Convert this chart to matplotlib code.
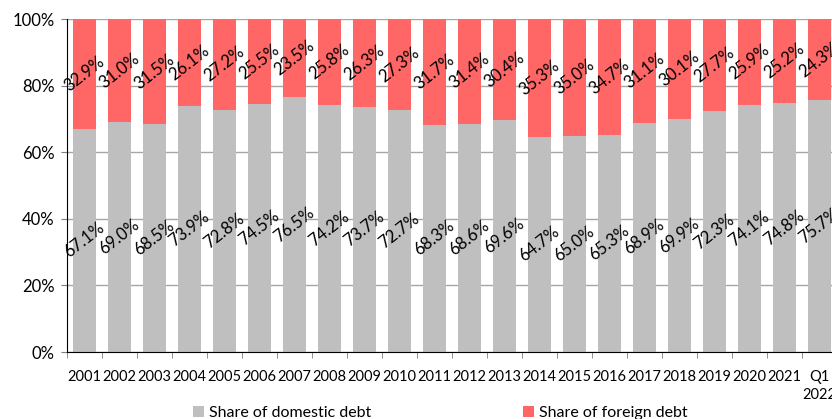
import numpy as np
import matplotlib.pyplot as plt
from matplotlib.ticker import FuncFormatter

years = ['2001', '2002', '2003', '2004', '2005', '2006', '2007', '2008', '2009',
         '2010', '2011', '2012', '2013', '2014', '2015', '2016', '2017', '2018',
         '2019', '2020', '2021', 'Q1\n2022']
domestic = [67.1, 69.0, 68.5, 73.9, 72.8, 74.5, 76.5, 74.2, 73.7, 72.7, 68.3,
            68.6, 69.6, 64.7, 65.0, 65.3, 68.9, 69.9, 72.3, 74.1, 74.8, 75.7]
foreign = [32.9, 31.0, 31.5, 26.1, 27.2, 25.5, 23.5, 25.8, 26.3, 27.3, 31.7,
           31.4, 30.4, 35.3, 35.0, 34.7, 31.1, 30.1, 27.7, 25.9, 25.2, 24.3]

plt.rcParams['font.family'] = ['Lato', 'DejaVu Sans']

W, H = 832, 419
fig = plt.figure(figsize=(W / 100, H / 100), dpi=100)
# axes runs a little past the right edge, so the last bar is cut off
ax = fig.add_axes([67 / W, (H - 352) / H, (837 - 67) / W, (352 - 19) / H])

x = np.arange(len(years))
ax.bar(x, domestic, width=0.66, color='#BFBFBF', label='Share of domestic debt', zorder=2)
ax.bar(x, foreign, width=0.66, bottom=domestic, color='#FF6666',
       label='Share of foreign debt', zorder=2)

for i in x:
    ax.text(i, domestic[i] / 2, f'{domestic[i]:.1f}%', ha='center', va='center',
            rotation=38, fontsize=12, color='black', zorder=3)
    ax.text(i, domestic[i] + foreign[i] / 2, f'{foreign[i]:.1f}%', ha='center',
            va='center', rotation=38, fontsize=12, color='black', zorder=3)

ax.set_xlim(-0.5, len(years) - 0.5)
ax.set_ylim(0, 100)
ax.set_yticks(np.arange(0, 101, 20))
ax.yaxis.set_major_formatter(FuncFormatter(lambda v, p: f'{v:.0f}%'))
ax.grid(axis='y', color='#A6A6A6', linewidth=1, zorder=0)

ax.set_xticks(x)
ax.set_xticklabels(years, fontsize=10.5, linespacing=1.4)
ax.set_xticks(np.arange(-0.5, len(years), 1), minor=True)
ax.tick_params(axis='x', which='major', length=0, pad=13)
ax.tick_params(axis='x', which='minor', length=4, color='#7F7F7F')
ax.tick_params(axis='y', length=4, color='#7F7F7F', labelsize=12, pad=5)

for side in ['top', 'right']:
    ax.spines[side].set_visible(False)
ax.spines['left'].set_color('black')
ax.spines['bottom'].set_color('black')

fig.legend(loc='center', bbox_to_anchor=(440 / W, 1 - 413 / H), ncol=2,
           frameon=False, fontsize=11.5, handlelength=0.7, handleheight=0.7,
           columnspacing=9.5, handletextpad=0.3)

fig.savefig('out.png', dpi=100)
